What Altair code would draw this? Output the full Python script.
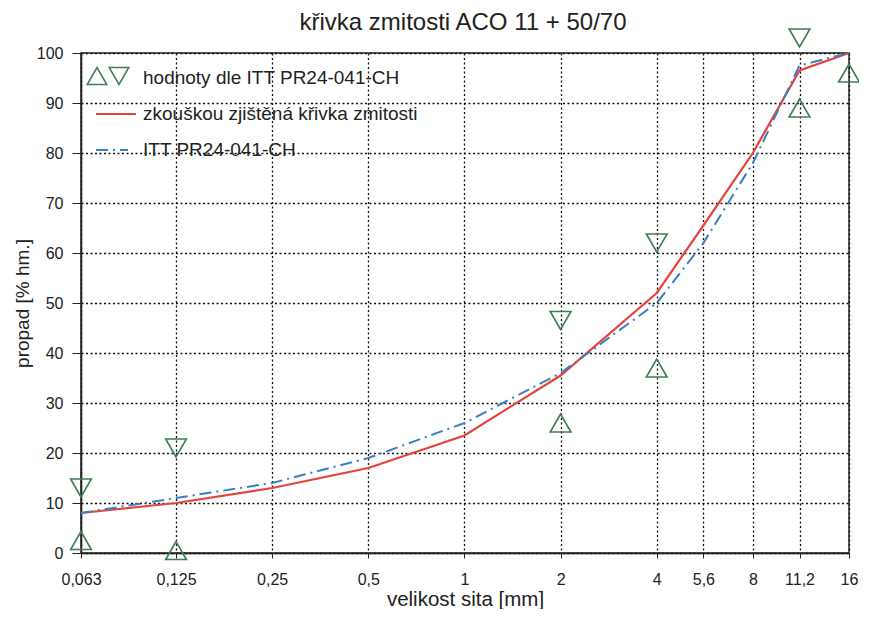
import altair as alt
import pandas as pd

# ---- data ----
sieves = [0.063, 0.125, 0.25, 0.5, 1, 2, 4, 5.6, 8, 11.2, 16]
measured = [8, 10, 13, 17, 23.5, 35.5, 52, 65.5, 80, 96.5, 100]
itt = [8, 11, 14, 19, 26, 36, 50, 62, 78, 97.5, 100]
lower_sieves = [0.063, 0.125, 2, 4, 11.2, 16]
lower = [2.5, 0.5, 26, 37, 89, 96]
upper_sieves = [0.063, 0.125, 2, 4, 11.2]
upper = [13, 21, 46.5, 62, 103]
y_ticks = list(range(0, 101, 10))

chart_title = "křivka zmitosti ACO 11 +  50/70"
x_title = "velikost sita [mm]"
y_title = "propad [% hm.]"
legend_labels = [
    "hodnoty dle ITT PR24-041-CH",
    "zkouškou zjištěná křivka zmitosti",
    "ITT PR24-041-CH",
]

FONT = "Liberation Sans"
TXT = "#222222"
RED = "#e5443a"
BLUE = "#3a7fbf"
GREEN = "#3f7d52"
W, H = 768, 500

curves = pd.DataFrame({"sito": sieves, "measured": measured, "itt": itt})
lo = pd.DataFrame({"sito": lower_sieves, "v": lower})
up = pd.DataFrame({"sito": upper_sieves, "v": upper})

x_scale = alt.Scale(type="log", domain=[0.063, 16], nice=False)
y_scale = alt.Scale(domain=[0, 100], nice=False)

grid_kw = dict(grid=True, gridColor="#111111", gridDash=[2, 2.5], gridWidth=1.3,
               domain=True, domainColor="#222222", domainWidth=1.5,
               tickColor="#222222", labelFont=FONT, labelFontSize=16, labelColor=TXT,
               titleFont=FONT, titleFontWeight="normal", titleColor=TXT)

x_axis = alt.Axis(values=sieves, labelExpr="replace(toString(datum.value), '.', ',')",
                  title=x_title, tickSize=5, labelPadding=13, titleFontSize=20.5,
                  titleY=36, titleBaseline="top", labelFlush=False, **grid_kw)
y_axis = alt.Axis(values=y_ticks, title=y_title, tickSize=9, labelPadding=9,
                  titleFontSize=19, titleX=-49, titleY=H / 2, **grid_kw)

X = alt.X("sito:Q", scale=x_scale, axis=x_axis)

base = alt.Chart(curves)

red_line = base.mark_line(color=RED, strokeWidth=2.2).encode(
    x=X, y=alt.Y("measured:Q", scale=y_scale, axis=y_axis),
)
blue_line = base.mark_line(color=BLUE, strokeWidth=2, strokeDash=[12, 5, 2, 5]).encode(
    x=X, y=alt.Y("itt:Q", scale=y_scale, axis=y_axis),
)
lo_pts = alt.Chart(lo).mark_point(shape="triangle-up", filled=False, color=GREEN,
                                  strokeWidth=1.6, size=430, opacity=1).encode(
    x=X, y=alt.Y("v:Q", scale=y_scale, axis=y_axis),
)
up_pts = alt.Chart(up).mark_point(shape="triangle-down", filled=False, color=GREEN,
                                  strokeWidth=1.6, size=430, opacity=1).encode(
    x=X, y=alt.Y("v:Q", scale=y_scale, axis=y_axis),
)

# ---- title and hand-built legend ----
title_mark = alt.Chart().mark_text(text=chart_title, align="center", baseline="alphabetic",
                                   font=FONT, fontSize=24, color=TXT).encode(
    x=alt.value(W / 2 - 2), y=alt.value(-23))

leg_up = alt.Chart().mark_point(shape="triangle-up", filled=False, color=GREEN,
                                strokeWidth=1.6, size=380, opacity=1).encode(
    x=alt.value(16), y=alt.value(23))
leg_down = alt.Chart().mark_point(shape="triangle-down", filled=False, color=GREEN,
                                  strokeWidth=1.6, size=380, opacity=1).encode(
    x=alt.value(38), y=alt.value(23))
leg_red = alt.Chart().mark_rule(color=RED, strokeWidth=2.2).encode(
    x=alt.value(15), x2=alt.value(55), y=alt.value(61))
leg_blue = alt.Chart().mark_rule(color=BLUE, strokeWidth=2, strokeDash=[12, 5, 2, 5]).encode(
    x=alt.value(15), x2=alt.value(47), y=alt.value(97))

def leg_text(label, y):
    return alt.Chart().mark_text(text=label, align="left", baseline="middle",
                                 font=FONT, fontSize=19, color=TXT).encode(
        x=alt.value(62), y=alt.value(y))

chart = alt.layer(
    red_line, blue_line, lo_pts, up_pts,
    title_mark, leg_up, leg_down, leg_red, leg_blue,
    leg_text(legend_labels[0], 25), leg_text(legend_labels[1], 61), leg_text(legend_labels[2], 97),
).properties(
    width=W, height=H,
    autosize="none",
    padding={"left": 73, "top": 45, "right": 10, "bottom": 56},
    background="white",
).configure_view(stroke="#222222", strokeWidth=1.5)

chart.save("out.html", embed_options={"renderer": "svg", "actions": False})
